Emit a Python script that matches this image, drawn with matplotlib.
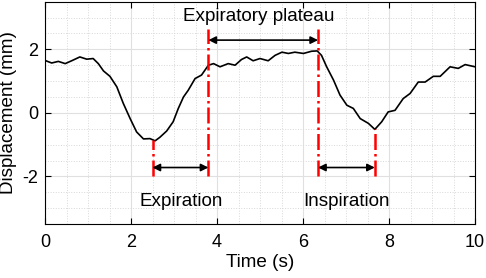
import numpy as np
import matplotlib
matplotlib.use("Agg")
import matplotlib.pyplot as plt
from matplotlib.ticker import MultipleLocator

plt.rcParams['font.family'] = ['Liberation Sans', 'DejaVu Sans']
plt.rcParams['axes.unicode_minus'] = False

time_s = [0.0, 0.02, 0.155, 0.31, 0.47, 0.62, 0.81, 0.97, 1.12, 1.24, 1.36, 1.51, 1.67, 1.82,
          1.98, 2.13, 2.29, 2.44, 2.56, 2.67, 2.83, 2.98, 3.10, 3.22, 3.33, 3.49, 3.64,
          3.80, 3.92, 4.07, 4.26, 4.42, 4.57, 4.69, 4.84, 5.00, 5.19, 5.35, 5.51, 5.66,
          5.81, 6.01, 6.20, 6.33, 6.43, 6.55, 6.71, 6.86, 7.02, 7.17, 7.33, 7.52, 7.67,
          7.83, 7.98, 8.14, 8.33, 8.49, 8.68, 8.84, 9.03, 9.19, 9.42, 9.61, 9.77, 10.0]
displacement_mm = [1.64, 1.64, 1.57, 1.62, 1.55, 1.64, 1.76, 1.69, 1.71, 1.55, 1.32, 1.15, 0.82, 0.30,
                   -0.18, -0.60, -0.82, -0.81, -0.88, -0.77, -0.57, -0.28, 0.14, 0.50, 0.71, 1.08, 1.19,
                   1.50, 1.55, 1.45, 1.55, 1.50, 1.68, 1.76, 1.64, 1.71, 1.64, 1.81, 1.91, 1.87,
                   1.91, 1.87, 1.94, 1.95, 1.81, 1.45, 1.03, 0.56, 0.24, 0.14, -0.18, -0.33, -0.52,
                   -0.28, 0.03, 0.08, 0.45, 0.61, 0.97, 0.97, 1.15, 1.15, 1.45, 1.40, 1.52, 1.45]

marker_x = [2.5, 3.8, 6.35, 7.67]
marker_y_top = [-0.86, 2.65, 2.65, -0.52]
marker_y_bottom = -2.0

phase_labels = ["Expiration", "Expiratory plateau", "Inspiration"]
phase_label_x = [3.16, 4.98, 7.02]
phase_label_y = [-2.78, 3.02, -2.78]
phase_arrow_y = [-1.72, 2.29, -1.72]

FS = 13

fig = plt.figure(figsize=(4.86, 2.78), dpi=100)
ax = fig.add_axes([0.0926, 0.194, 0.8848, 0.80])

ax.set_xlim(0, 10)
ax.set_ylim(-3.5, 3.5)
ax.xaxis.set_major_locator(MultipleLocator(2))
ax.xaxis.set_minor_locator(MultipleLocator(0.5))
ax.yaxis.set_major_locator(MultipleLocator(2))
ax.yaxis.set_minor_locator(MultipleLocator(0.5))
ax.grid(True, which='major', color='#e0e0e0', linewidth=0.8, linestyle='-')
ax.grid(True, which='minor', color='#d8d8d8', linewidth=0.7, linestyle=':')
ax.set_axisbelow(True)
ax.tick_params(which='both', direction='in', top=True, right=True, labelsize=FS)
ax.tick_params(axis='x', which='major', length=4, pad=7)
ax.tick_params(axis='y', which='major', length=4, pad=5)
ax.tick_params(which='minor', length=0)
for s in ax.spines.values():
    s.set_linewidth(0.8)

ax.plot(time_s, displacement_mm, color='black', linewidth=1.2, zorder=3,
        solid_joinstyle='round', solid_capstyle='round')

for xm, yt in zip(marker_x, marker_y_top):
    ax.plot([xm, xm], [marker_y_bottom, yt], color='red', linestyle='-.', linewidth=1.8, zorder=4)

pairs = [(marker_x[0], marker_x[1]), (marker_x[1], marker_x[2]), (marker_x[2], marker_x[3])]
for (x0, x1), ya in zip(pairs, phase_arrow_y):
    ax.annotate('', xy=(x0, ya), xytext=(x1, ya),
                arrowprops=dict(arrowstyle='<|-|>', color='black', lw=1.2,
                                mutation_scale=11, shrinkA=0, shrinkB=0), zorder=5)

for lbl, lx, ly in zip(phase_labels, phase_label_x, phase_label_y):
    ax.text(lx, ly, lbl, ha='center', va='center', fontsize=13.6)

ax.set_xlabel('Time (s)', fontsize=13.6, labelpad=2)
ax.set_ylabel('Displacement (mm)', fontsize=13.6, labelpad=4)

fig.savefig('out.png', dpi=100)
